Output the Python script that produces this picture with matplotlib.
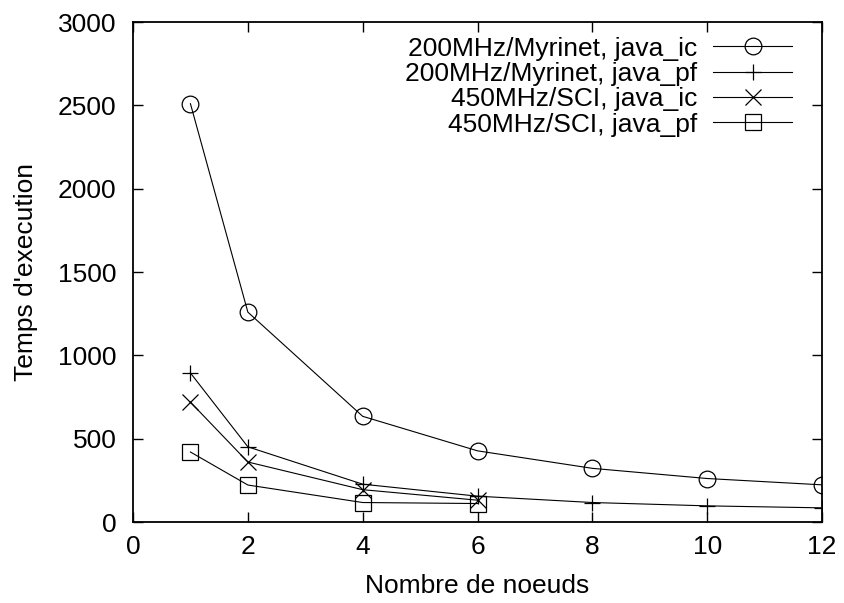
import matplotlib
matplotlib.use('Agg')
import matplotlib.pyplot as plt

plt.rcParams['font.family'] = ['Liberation Sans', 'DejaVu Sans']

# nombre de noeuds
noeuds_200 = [1, 2, 4, 6, 8, 10, 12]
noeuds_450 = [1, 2, 4, 6]

# temps d'execution
myri_ic = [2510, 1260, 635, 428, 323, 262, 224]
myri_pf = [895, 452, 228, 156, 118, 98, 86]
sci_ic = [720, 361, 195, 132]
sci_pf = [421, 223, 118, 112]

series = [
    ('200MHz/Myrinet, java_ic', noeuds_200, myri_ic, 'o'),
    ('200MHz/Myrinet, java_pf', noeuds_200, myri_pf, '+'),
    ('450MHz/SCI, java_ic', noeuds_450, sci_ic, 'x'),
    ('450MHz/SCI, java_pf', noeuds_450, sci_pf, 's'),
]

fig = plt.figure(figsize=(8.44, 6.03), dpi=100)
ax = fig.add_axes([0.1576, 0.134, 0.8164, 0.8295])

for nom, xs, ys, m in series:
    ax.plot(xs, ys, color='black', linewidth=0.8, marker=m, markersize=12,
            markerfacecolor='none', markeredgecolor='black', markeredgewidth=0.9,
            label=nom)

ax.set_xlim(0, 12)
ax.set_ylim(0, 3000)
ax.set_xticks(range(0, 13, 2))
ax.set_yticks(range(0, 3001, 500))
ax.tick_params(direction='in', top=True, right=True, length=7, width=1,
               labelsize=19)
ax.tick_params(axis='y', pad=12)
ax.tick_params(axis='x', pad=9)
for s in ax.spines.values():
    s.set_linewidth(1.3)

ax.set_xlabel('Nombre de noeuds', fontsize=19, labelpad=11)
ax.set_ylabel("Temps d'execution", fontsize=19, labelpad=14)

ax.legend(loc='upper right', frameon=False, markerfirst=False, fontsize=19,
          handlelength=3.0, handletextpad=0.6, labelspacing=0.05,
          borderaxespad=0.0, bbox_to_anchor=(0.972, 0.992))

fig.savefig('out.png', dpi=100)
